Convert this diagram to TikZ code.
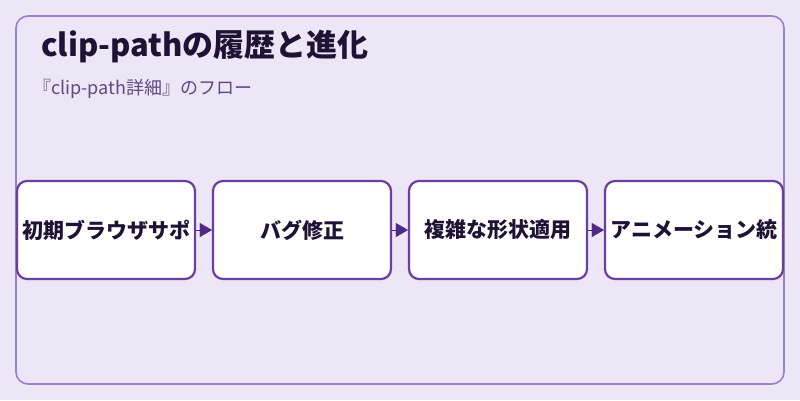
\documentclass[tikz,border=0pt]{standalone}
\usepackage{fontspec}
\setmainfont{Noto Sans CJK JP}
\usetikzlibrary{arrows.meta}
\definecolor{bgc}{HTML}{EDE6F6}
\definecolor{framec}{HTML}{9C7FD0}
\definecolor{boxc}{HTML}{6A3FA0}
\definecolor{txtc}{HTML}{1F1235}
\definecolor{subc}{HTML}{5B4A85}
\definecolor{arrc}{HTML}{4E2A84}
\tikzset{
  stepbox/.style={draw=boxc, line width=2.2pt, fill=white, rounded corners=10pt,
    minimum width=178pt, minimum height=98pt, inner sep=0pt,
    font=\fontsize{21}{24}\selectfont\bfseries, text=txtc},
  flow/.style={-{Triangle[length=12pt,width=14pt]}, arrc, line width=0.1pt},
}
\begin{document}
\begin{tikzpicture}[x=1pt,y=1pt]
\useasboundingbox (0,0) rectangle (800,-400);
\fill[bgc] (0,0) rectangle (800,-400);
\draw[framec, line width=1.6pt, rounded corners=12pt] (16,-16) rectangle (784,-384);
\node[anchor=west, inner sep=0pt, text=txtc, font=\fontsize{31}{34}\selectfont\bfseries] (title) at (41,-47) {clip-pathの履歴と進化};
\node[anchor=west, inner sep=0pt, text=subc, font=\fontsize{18}{21}\selectfont] (sub) at (33,-89) {『clip-path詳細』のフロー};
\node[stepbox] (b1) at (106,-230) {初期ブラウザサポ};
\node[stepbox] (b2) at (302,-230) {バグ修正};
\node[stepbox] (b3) at (498,-230) {複雑な形状適用};
\node[stepbox] (b4) at (694,-230) {アニメーション統};
\draw[flow] (b1.east) -- (b2.west);
\draw[flow] (b2.east) -- (b3.west);
\draw[flow] (b3.east) -- (b4.west);
\end{tikzpicture}
\end{document}
